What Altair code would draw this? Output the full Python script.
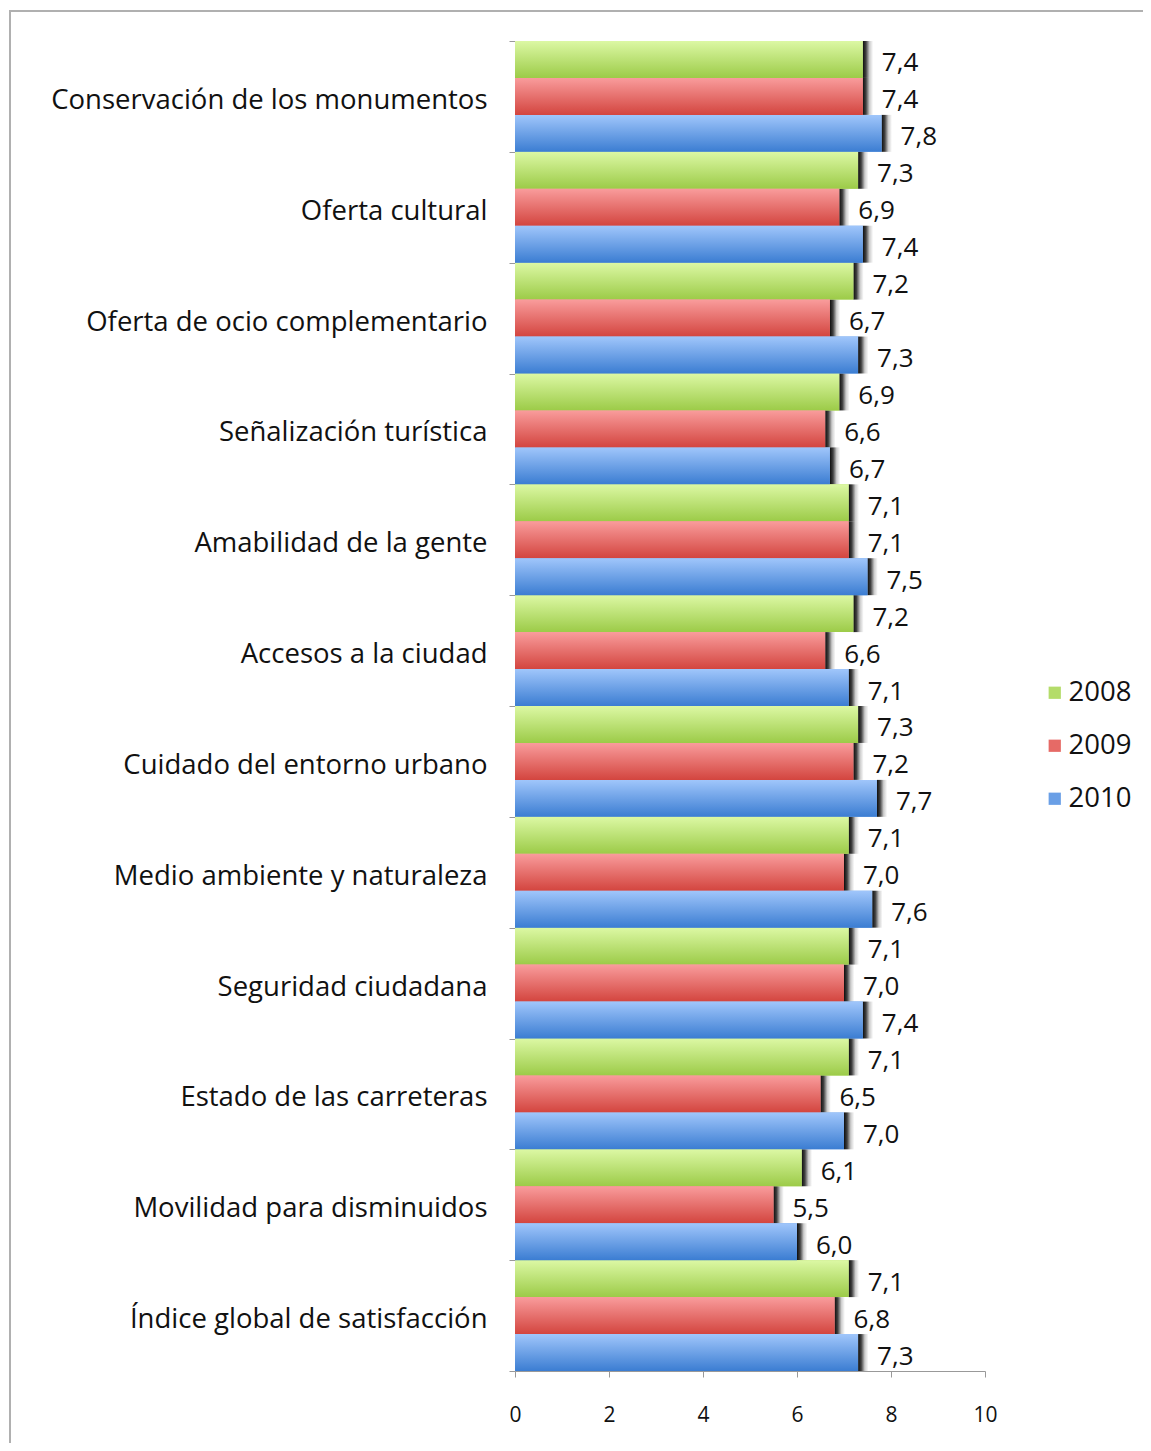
import altair as alt
import pandas as pd

categories = [
    "Conservación de los monumentos",
    "Oferta cultural",
    "Oferta de ocio complementario",
    "Señalización turística",
    "Amabilidad de la gente",
    "Accesos a la ciudad",
    "Cuidado del entorno urbano",
    "Medio ambiente y naturaleza",
    "Seguridad ciudadana",
    "Estado de las carreteras",
    "Movilidad para disminuidos",
    "Índice global de satisfacción",
]
years = ["2008", "2009", "2010"]
v2008 = [7.4, 7.3, 7.2, 6.9, 7.1, 7.2, 7.3, 7.1, 7.1, 7.1, 6.1, 7.1]
v2009 = [7.4, 6.9, 6.7, 6.6, 7.1, 6.6, 7.2, 7.0, 7.0, 6.5, 5.5, 6.8]
v2010 = [7.8, 7.4, 7.3, 6.7, 7.5, 7.1, 7.7, 7.6, 7.4, 7.0, 6.0, 7.3]
solid_colors = ["#b4dc6a", "#e66a66", "#6a9fe6"]
grad_stops = {
    "2008": ("#dcf8a4", "#9ccb48"),
    "2009": ("#f99c9c", "#d3453f"),
    "2010": ("#a0c6fb", "#3b7dd2"),
}

rows = []
for i, c in enumerate(categories):
    for y, vals in zip(years, [v2008, v2009, v2010]):
        rows.append({"cat": c, "year": y, "value": vals[i]})
df = pd.DataFrame(rows)

FONT = "Open Sans"

y_enc = alt.Y("cat:N", sort=categories,
              scale=alt.Scale(paddingInner=0, paddingOuter=0),
              axis=alt.Axis(title=None, labelFont=FONT, labelFontSize=27.5,
                            labelColor="#111", tickBand="extent", tickSize=6,
                            tickColor="#999", domainColor="#999",
                            labelPadding=22, labelLimit=500, labelOffset=4))
yoff = alt.YOffset("year:N", scale=alt.Scale(domain=years, paddingInner=0, paddingOuter=0))
x_enc = alt.X("value:Q", scale=alt.Scale(domain=[0, 10]),
              axis=alt.Axis(title=None, values=[0, 2, 4, 6, 8, 10], grid=False,
                            labelFont=FONT, labelFontSize=21, labelColor="#111",
                            tickSize=6, tickColor="#999", domainColor="#999",
                            labelPadding=27, labelFlush=False))

base = alt.Chart(df)

legend_layer = base.mark_bar().encode(
    x=x_enc, y=y_enc, yOffset=yoff,
    color=alt.Color("year:N", scale=alt.Scale(domain=years, range=solid_colors),
                    legend=alt.Legend(title=None, orient="none", legendX=526, legendY=638,
                                      symbolType="square", symbolSize=150,
                                      symbolStrokeWidth=0,
                                      labelFont=FONT, labelFontSize=27.5, labelColor="#111",
                                      labelOffset=0, rowPadding=24)),
)

shadow = base.transform_calculate(end="datum.value + 0.22").mark_bar(
    fill=alt.Gradient(gradient="linear",
                      stops=[alt.GradientStop(color="rgba(0,0,0,0.95)", offset=0),
                             alt.GradientStop(color="rgba(0,0,0,0.75)", offset=0.3),
                             alt.GradientStop(color="rgba(0,0,0,0.2)", offset=0.65),
                             alt.GradientStop(color="rgba(0,0,0,0)", offset=1)],
                      x1=0, x2=1, y1=0, y2=0)
).encode(x="value:Q", x2="end:Q", y=alt.Y("cat:N", sort=categories), yOffset=yoff)

grad_layers = []
for y in years:
    top, bot = grad_stops[y]
    grad_layers.append(
        base.transform_filter(alt.datum.year == y).mark_bar(
            fill=alt.Gradient(gradient="linear",
                              stops=[alt.GradientStop(color=top, offset=0),
                                     alt.GradientStop(color=bot, offset=1)],
                              x1=0, x2=0, y1=0, y2=1)
        ).encode(x="value:Q", y=alt.Y("cat:N", sort=categories), yOffset=yoff)
    )

labels = base.transform_calculate(
    label="replace(format(datum.value, '.1f'), '.', ',')"
).mark_text(align="left", baseline="middle", dx=19, dy=4, font=FONT,
            fontSize=26, color="#111").encode(
    x="value:Q", y=alt.Y("cat:N", sort=categories), yOffset=yoff, text="label:N")

one = pd.DataFrame({"a": [0]})
frame_top = alt.Chart(one).mark_rule(stroke="#b0b0b0", strokeWidth=2).encode(
    x=alt.value(-505), x2=alt.value(700), y=alt.value(-30))
frame_left = alt.Chart(one).mark_rule(stroke="#b0b0b0", strokeWidth=2).encode(
    x=alt.value(-505), y=alt.value(-31), y2=alt.value(1500))

chart = alt.layer(frame_top, frame_left, legend_layer, shadow, *grad_layers, labels).properties(
    width=470, height=1330,
    autosize=alt.AutoSizeParams(type="none"),
    padding={"left": 507, "top": 33, "right": 158, "bottom": 72},
).configure_view(stroke=None)

chart.save("out.html", embed_options={"renderer": "svg", "actions": False})
